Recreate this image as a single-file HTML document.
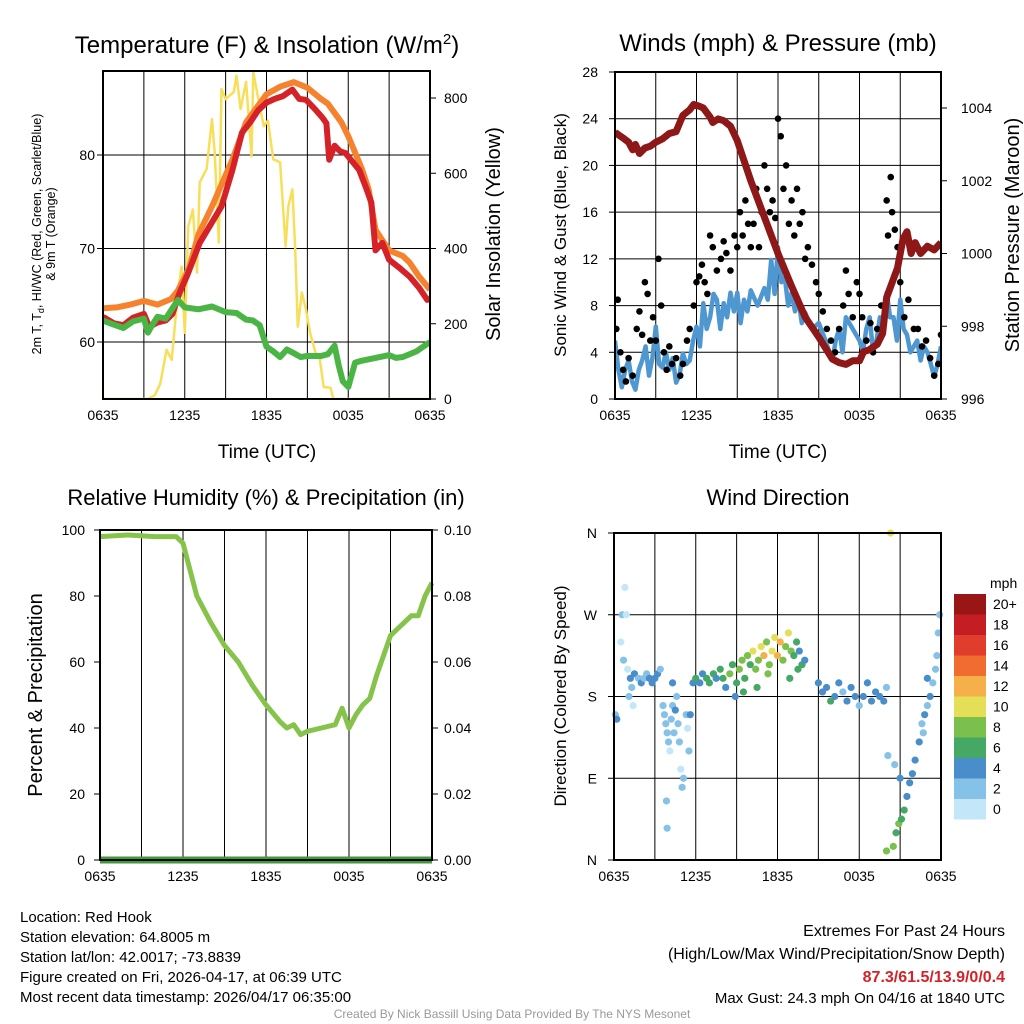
<!DOCTYPE html>
<html><head><meta charset="utf-8"><style>
body{margin:0;background:#fff;}
svg{display:block;font-family:"Liberation Sans",sans-serif;}
</style></head><body>
<svg id="c" width="1024" height="1024" viewBox="0 0 1024 1024"></svg>
<script>
// ---------- data ----------
const xTickLabels = ["0635","1235","1835","0035","0635"];
const tempHours = [0,0.8,1.5,2.2,3,3.4,4,4.6,5.1,5.6,6.2,7.1,8,8.7,9.5,10.2,10.8,11.4,12,12.6,13.2,13.9,14.4,14.9,15.5,16.1,16.4,16.6,17,17.4,17.8,18.3,18.8,19.3,19.7,20,20.5,21,21.7,22.5,23.2,23.8,24];
const tempRed   = [62.7,62,61.8,62.6,63,61.6,62.1,62.3,63,65.2,67.2,70.6,72.8,74.5,78.4,82.4,83.5,84.8,85.6,86,86.3,87,86,85.9,85,84,83.4,79.5,81,80.4,80.2,79.3,78.4,76.5,74.9,69.8,70.6,68.8,68,67,65.8,64.5,64.7];
const orangeHours=[0,1,2,3,4,5,5.5,6.3,7,8,9.5,10.5,12,13,14,15,16,16.5,17.5,18,19,19.5,20,20.5,21,22,22.5,23.2,24];
const temp9m    = [63.6,63.7,64,64.4,64,64.6,65.5,67.8,71.5,74.5,79.5,83.5,86.5,87.3,87.8,87.2,86,85.5,83.5,82,78.5,76.3,72,70.9,69.8,69.2,68.5,67,65.6];
const dewHours = [0,0.7,1.5,2.2,3,3.3,3.6,4,4.6,5.5,6,7,8,9,9.8,10.5,11,11.5,12,12.5,13,13.5,14,14.5,15,16,16.5,17,17.3,17.6,18,18.5,19,20,21,21.5,22,23,23.5,24];
const dewPt    = [62.3,61.9,61.5,62.2,62.5,61,61.8,62.7,62.5,64.5,63.7,63.5,63.8,63.2,63.1,62.4,62.3,61.8,59.5,59,58.4,59.2,58.8,58.4,58.5,58.5,58.7,59.6,57.5,55.8,55.2,57.8,58,58.3,58.6,58.3,58.4,59,59.5,60];
const solarHours=[0,3.3,3.8,4.2,4.67,5.04,5.5,5.77,6.0,6.26,6.6,6.9,7.1,7.6,8.0,8.2,8.5,8.7,9.0,9.6,9.8,10.1,10.5,10.9,11.03,11.4,11.8,12.1,12.5,13.0,13.4,13.6,13.9,14.1,14.3,14.6,14.9,15.2,15.6,15.9,16.2,16.7,16.9,24];
const solar     =[0,0,10,40,131,104,283,352,176,459,504,336,576,611,744,656,416,824,797,816,859,771,843,645,869,797,725,740,637,629,405,512,557,405,192,283,237,176,123,110,32,30,0,0];
const pHours = [0,0.5,1,1.3,1.5,1.8,2.2,2.6,3,3.5,4,4.5,5,5.5,5.8,6.2,6.5,7,7.2,7.6,8,8.5,9,10,11,12,13,14,15,16,16.5,17,17.5,18,18.3,18.7,19.3,19.7,20,20.4,20.8,21.2,21.5,21.8,22.1,22.5,23,23.5,24];
const pressure=[1003.33,1003.2,1003.06,1002.85,1003,1002.75,1002.9,1002.95,1003.06,1003.15,1003.3,1003.35,1003.8,1003.95,1004.1,1004.05,1004,1003.75,1003.6,1003.7,1003.65,1003.5,1003.1,1002,1001,1000,999.1,998.25,997.7,997.1,997,996.95,997.05,997.05,997.3,997.35,997.5,997.8,998.8,999.2,999.6,1000.4,1000.6,1000,1000.3,1000,1000.2,1000.1,1000.3];
const windHours=[0,0.25,0.5,0.75,1,1.25,1.5,1.75,2,2.25,2.5,2.75,3,3.25,3.5,3.75,4,4.25,4.5,4.75,5,5.25,5.5,5.75,6,6.25,6.5,6.75,7,7.25,7.5,7.75,8,8.25,8.5,8.75,9,9.25,9.5,9.75,10,10.5,11,11.25,11.5,11.75,12,12.25,12.5,12.75,13,13.25,13.5,13.75,14,14.5,15,15.5,16,16.25,16.5,16.75,17,17.5,18,18.25,18.5,18.75,19,19.25,19.5,19.75,20,20.25,20.5,20.75,21,21.25,21.5,21.75,22,22.25,22.5,22.75,23,23.25,23.5,23.75,24];
const windSpd =[5,2.5,1,2.5,3.3,1.5,0.8,2.5,3.3,4.5,2,3.5,6.2,3,2.7,4,2.5,3.5,1.4,2,3.9,3,3.3,5,6.2,4.5,8.2,6,7,9,8.5,6,8.2,7,9.1,7.5,9.1,6.5,8.5,7.5,9.3,8,9.5,8.5,11.9,9,13,10,10.4,8,9.1,7.5,8.5,6.5,7.4,6,6.5,5,3.3,5,6,4,7,6,5,4,6,7,4,5,7,5.5,9.1,7,7,5,8.5,6,5.5,4,4.5,5,3.3,4.5,4,3,1.9,3,4.5];
const gustHours=[0.1,0.2,0.4,0.6,0.8,1.0,1.3,1.6,1.8,2.0,2.2,2.4,2.6,2.8,3.0,3.2,3.4,3.6,3.8,4.0,4.2,4.5,4.8,5.0,5.3,5.5,5.8,6.0,6.2,6.4,6.6,6.8,7.0,7.2,7.5,7.8,8.0,8.2,8.5,8.8,9.0,9.2,9.4,9.6,9.8,10.0,10.2,10.4,10.6,10.8,11.0,11.2,11.4,11.6,11.8,12.0,12.2,12.4,12.6,12.8,13.0,13.2,13.4,13.6,13.8,14.0,14.2,14.5,14.8,15.0,15.3,15.6,15.9,16.2,16.5,16.8,17.0,17.2,17.5,17.8,18.0,18.2,18.5,18.8,19.0,19.3,19.6,20.0,20.1,20.3,20.4,20.6,20.8,21.0,21.3,21.6,22.0,22.3,22.6,22.9,23.2,23.5,23.8,24.0];
const gusts=[6,8.5,4,2.5,1.5,3.5,2,6,7.5,5.5,10,9,5,7,5,12,8,4,2.5,4.5,3,3.5,2,3,5,6,8,10,10.5,11.5,10,9,14,13,11,12,13.5,12.5,11,14,13,16,14,17,15,13,15,18,13,16,20,18,16,17,15.5,24,22.5,18,20,15,17,14,18,15,16,12,13,11.5,10,9,7.5,6,5,4,6,8,11,9,7,10,9,7,5,6.5,4,6,8,17,14,19,16,14.5,13,10,7,8.5,6,6,4.5,5,3.5,2,3,5.5];
const rhHours=[0,2,4,5.5,6,6.5,7,8,9,10,11,12,13,13.5,14,14.5,15,16,17,17.5,18,18.5,19,19.5,20,20.5,21,21.5,22,22.5,23,23.5,24];
const rh    =[98,98.5,98,98,96,88,80,72,65,60,53,47,42,40,41,38,39,40,41,46,40,44,47,49,56,62,68,70,72,74,74,80,84];
const precip=[0,0];
const dirHours=[0.1,0.2,0.5,0.6,0.8,0.9,0.7,1.0,1.2,1.3,1.5,1.8,2.0,2.2,2.4,2.6,1.1,1.4,2.8,3.0,3.2,3.4,3.6,3.7,3.8,3.9,4.0,4.1,4.2,4.3,4.4,4.5,4.6,4.7,4.8,4.9,5.0,5.1,3.9,3.85,5.3,5.4,5.5,4.3,5.6,5.8,6.0,6.3,6.5,6.8,7.0,7.3,7.5,7.8,8.0,8.2,8.5,8.7,9.0,9.2,9.4,9.6,9.8,10.0,10.2,10.4,10.6,10.8,11.0,11.2,11.4,11.6,11.8,12.0,12.2,12.4,12.6,12.8,13.0,13.2,13.4,13.6,13.8,14.0,10.5,11.3,9.5,8.9,12.9,13.5,15.0,15.3,15.6,15.9,16.2,16.5,16.8,17.1,17.4,17.7,18.0,18.3,18.6,18.9,19.2,19.5,19.8,20.0,20.3,20.0,20.5,20.7,20.9,21.1,21.3,21.5,21.7,21.9,22.1,22.4,22.6,22.8,23.0,23.2,23.4,23.6,23.7,23.8,23.9,23.0,22.7,20.1,20.6,21.0];
const dirDeg=[160,155,240,270,300,270,220,210,200,190,205,200,195,200,205,200,180,170,195,200,205,210,170,160,150,140,130,120,155,170,140,165,180,150,130,100,80,90,35,65,160,145,120,195,160,195,200,195,205,200,195,205,200,210,200,190,205,215,195,210,220,200,225,215,230,210,220,235,225,240,215,230,245,225,240,220,235,250,230,225,240,230,215,220,190,205,185,180,200,210,195,185,190,175,180,195,185,175,190,180,170,180,195,175,185,180,175,190,360,10,15,30,40,45,55,70,85,95,110,130,150,160,170,180,195,210,225,250,270,200,140,115,105,90];
const dirSpd=[3,4,1,2,1,1,2,1,4,3,4,3,4,3,3,4,2,1,4,5,4,3,2,2,3,2,3,1,3,2,3,4,2,3,3,1,2,3,3,2,3,1,3,4,4,5,6,5,4,6,7,6,5,7,6,4,8,7,6,8,9,7,8,7,11,9,8,10,12,9,8,10,11,13,12,9,8,10,8,7,6,5,6,5,6,8,6,5,7,6,4,5,4,6,4,5,3,4,5,4,3,4,5,4,5,4,4,3,10,9,8,7,8,7,6,5,4,4,4,4,3,4,3,4,3,2,3,2,3,4,3,3,3,4];
const spdLabels=["0","2","4","6","8","10","12","14","16","18","20+"];
const spdColors=["#c3e7f8","#86c2e8","#4a8dcb","#45a865","#7bc04c","#e5de57","#f6b04a","#f06c31","#e03d2d","#c41d24","#9a1515"];
</script>
<script>
const NS="http://www.w3.org/2000/svg";
const svg=document.getElementById('c');
function el(tag,attrs,parent,text){const e=document.createElementNS(NS,tag);for(const k in attrs)e.setAttribute(k,attrs[k]);if(text!==undefined)e.textContent=text;(parent||svg).appendChild(e);return e;}
function lin(d0,d1,r0,r1){return v=>r0+(v-d0)*(r1-r0)/(d1-d0);}
function pathD(xs,ys,fx,fy){return xs.map((h,i)=>(i?'L':'M')+fx(h).toFixed(1)+','+fy(ys[i]).toFixed(1)).join('');}

function frame(x0,x1,y0,y1,hgrid,name){
  const g=el('g',{});
  
  
  const fx=lin(0,24,x0,x1);
  for(let h=3;h<24;h+=3){const l=el('line',{x1:fx(h),x2:fx(h),y1:y0,y2:y1,stroke:'#000','stroke-width':1},g);}
  hgrid.forEach(y=>{const l=el('line',{x1:x0,x2:x1,y1:y,y2:y,stroke:'#000','stroke-width':1},g);});
  xTickLabels.forEach((t,i)=>{const tx=el('text',{x:fx(i*6),y:y1+21,'font-size':14,'text-anchor':'middle'},g,t);});
  return {g,fx};
}
function box(x0,x1,y0,y1){const r=el('rect',{x:x0,y:y0,width:x1-x0,height:y1-y0,fill:'none',stroke:'#000','stroke-width':2});}
function txt(x,y,s,t,extra,name){const a=Object.assign({x,y,'font-size':s,'text-anchor':'middle'},extra||{});const e=el('text',a,svg,t);return e;}
function ticksY(vals,labels,fy,x,anchor,side,xEdge){vals.forEach((v,i)=>{const e=el('text',{x,y:fy(v)+5,'font-size':14,'text-anchor':anchor},svg,labels[i]);el('line',{x1:xEdge,x2:xEdge+side*6,y1:fy(v),y2:fy(v),stroke:'#000','stroke-width':1});});}

// ===== Panel 1 =====
{
const X0=103,X1=430,Y0=71,Y1=399;
const fyT=lin(60,80,342,155), fyS=lin(0,800,399,98);
const {fx}=frame(X0,X1,Y0,Y1,[fyT(60),fyT(70),fyT(80)],'temperature-panel');
const cl=el('clipPath',{id:'cp1'});el('rect',{x:X0,y:Y0-2,width:X1-X0,height:Y1-Y0+2},cl);
const g=el('g',{'clip-path':'url(#cp1)'});
let p;
p=el('path',{d:pathD(solarHours,solar,fx,fyS),fill:'none',stroke:'#f7df5a','stroke-width':2.5,'stroke-linejoin':'round'},g);
p=el('path',{d:pathD(orangeHours,temp9m,fx,fyT),fill:'none',stroke:'#f6822d','stroke-width':6,'stroke-linejoin':'round'},g);
p=el('path',{d:pathD(tempHours,tempRed,fx,fyT),fill:'none',stroke:'#d42228','stroke-width':6,'stroke-linejoin':'round'},g);
p=el('path',{d:pathD(dewHours,dewPt,fx,fyT),fill:'none',stroke:'#4ab545','stroke-width':6,'stroke-linejoin':'round'},g);
box(X0,X1,Y0,Y1);
ticksY([60,70,80],["60","70","80"],fyT,X0-8,'end',-1,X0);
ticksY([0,200,400,600,800],["0","200","400","600","800"],fyS,X1+14,'start',1,X1);
const t=txt(267,53,24,'','', 'temperature-title');t.innerHTML='Temperature (F) &amp; Insolation (W/m<tspan dy="-9" font-size="15">2</tspan><tspan dy="9">)</tspan>';
txt(267,458,19,'Time (UTC)',{},'x-axis-title');
const yl=el('text',{x:0,y:0,'font-size':12.5,'text-anchor':'middle',transform:'translate(41,234) rotate(-90)'});
yl.innerHTML='2m T, T<tspan dy="3" font-size="9">d</tspan><tspan dy="-3">, HI/WC (Red, Green, Scarlet/Blue)</tspan>';
const yl2=el('text',{x:0,y:0,'font-size':12.5,'text-anchor':'middle',transform:'translate(55,234) rotate(-90)'},svg,'& 9m T (Orange)');
txt(0,0,20,'Solar Insolation (Yellow)',{transform:'translate(500,234) rotate(-90)'},'right-y-axis-title');
}
// ===== Panel 2 =====
{
const X0=615,X1=941,Y0=72,Y1=399;
const fyW=lin(0,28,399,72), fyP=lin(996,1004,399,108);
const hg=[];for(let v=4;v<28;v+=4)hg.push(fyW(v));
const {fx}=frame(X0,X1,Y0,Y1,hg,'winds-panel');
const cl=el('clipPath',{id:'cp2'});el('rect',{x:X0,y:Y0,width:X1-X0,height:Y1-Y0},cl);
const g=el('g',{'clip-path':'url(#cp2)'});
let p=el('path',{d:pathD(windHours,windSpd,fx,fyW),fill:'none',stroke:'#4e97d1','stroke-width':4.5,'stroke-linejoin':'round'},g);
gustHours.forEach((h,i)=>{const c=el('circle',{cx:fx(h),cy:fyW(gusts[i]),r:3.3,fill:'#000'},g);});
p=el('path',{d:pathD(pHours,pressure,fx,fyP),fill:'none',stroke:'#8e1717','stroke-width':7,'stroke-linejoin':'round'},g);
box(X0,X1,Y0,Y1);
const wv=[0,4,8,12,16,20,24,28];ticksY(wv,wv.map(String),fyW,X0-17,'end',-1,X0);
const pv=[996,998,1000,1002,1004];ticksY(pv,pv.map(String),fyP,X1+20,'start',1,X1);
txt(778,51,24,'Winds (mph) & Pressure (mb)',{},'winds-title');
txt(778,458,19,'Time (UTC)',{},'x-axis-title');
txt(0,0,17,'Sonic Wind & Gust (Blue, Black)',{transform:'translate(566,235) rotate(-90)'},'left-y-axis-title');
txt(0,0,20,'Station Pressure (Maroon)',{transform:'translate(1019,235) rotate(-90)'},'right-y-axis-title');
}
// ===== Panel 3 =====
{
const X0=100,X1=432,Y0=530,Y1=860;
const fyR=lin(0,100,860,530), fyPr=lin(0,0.1,860,530);
const {fx}=frame(X0,X1,Y0,Y1,[],'humidity-panel');
let p=el('path',{d:pathD(rhHours,rh,fx,fyR),fill:'none',stroke:'#86c34a','stroke-width':5,'stroke-linejoin':'round'});
p=el('path',{d:pathD([0,24],precip,fx,fyPr),fill:'none',stroke:'#3d9b3a','stroke-width':7});
box(X0,X1,Y0,Y1);
const rv=[0,20,40,60,80,100];ticksY(rv,rv.map(String),fyR,X0-15,'end',-1,X0);
const qv=[0,0.02,0.04,0.06,0.08,0.1];ticksY(qv,qv.map(v=>v.toFixed(2)),fyPr,X1+12,'start',1,X1);
txt(266,505,22,'Relative Humidity (%) & Precipitation (in)',{},'humidity-title');
txt(0,0,20,'Percent & Precipitation',{transform:'translate(42,695) rotate(-90)'},'left-y-axis-title');
}
// ===== Panel 4 =====
{
const X0=614,X1=941,Y0=533,Y1=860;
const fyD=lin(0,360,860,533);
const {fx}=frame(X0,X1,Y0,Y1,[fyD(90),fyD(180),fyD(270)],'wind-direction-panel');
dirHours.forEach((h,i)=>{const ci=Math.min(10,Math.floor(dirSpd[i]/2));const c=el('circle',{cx:fx(h),cy:fyD(dirDeg[i]),r:3.6,fill:spdColors[ci]});});
box(X0,X1,Y0,Y1);
ticksY([0,90,180,270,360],["N","E","S","W","N"],fyD,X0-17,'end',-1,X0);
txt(778,505,22,'Wind Direction',{},'wind-direction-title');
txt(0,0,17,'Direction (Colored By Speed)',{transform:'translate(566,696) rotate(-90)'},'left-y-axis-title');
const cb=el('g',{});
spdColors.forEach((c,i)=>{const y=799-i*20.5;const r=el('rect',{x:954,y:y,width:32,height:20.5,fill:c},cb);
const t=el('text',{x:993,y:y+15,'font-size':14},cb,spdLabels[i]);});
const u=el('text',{x:990,y:588,'font-size':14},cb,'mph');
}
// ===== footer text =====
const info=["Location: Red Hook","Station elevation: 64.8005 m","Station lat/lon: 42.0017; -73.8839","Figure created on Fri, 2026-04-17, at 06:39 UTC","Most recent data timestamp: 2026/04/17 06:35:00"];
info.forEach((s,i)=>txt(20,922+i*20,15,s,{'text-anchor':'start'},'station-info-line'));
txt(1005,936,16,'Extremes For Past 24 Hours',{'text-anchor':'end'},'extremes-heading');
txt(1005,959,16,'(High/Low/Max Wind/Precipitation/Snow Depth)',{'text-anchor':'end'},'extremes-legend');
txt(1005,982,16,'87.3/61.5/13.9/0/0.4',{'text-anchor':'end',fill:'#d42228','font-weight':'bold'},'extremes-values');
txt(1005,1003,15,'Max Gust: 24.3 mph On 04/16 at 1840 UTC',{'text-anchor':'end'},'max-gust');
txt(512,1018,12,'Created By Nick Bassill Using Data Provided By The NYS Mesonet',{fill:'#999'},'credit');
</script>
</body></html>
